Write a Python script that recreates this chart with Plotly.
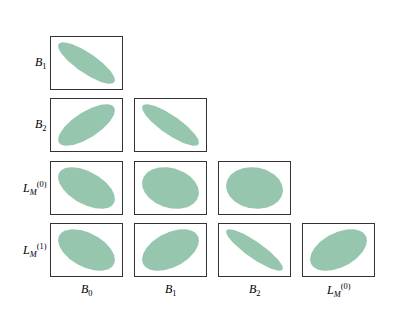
import numpy as np
import plotly.graph_objects as go

row_labels = ["<i>B</i><sub>1</sub>", "<i>B</i><sub>2</sub>",
              "<i>L</i><sub><i>M</i></sub><sup>(0)</sup>", "<i>L</i><sub><i>M</i></sub><sup>(1)</sup>"]
col_labels = ["<i>B</i><sub>0</sub>", "<i>B</i><sub>1</sub>",
              "<i>B</i><sub>2</sub>", "<i>L</i><sub><i>M</i></sub><sup>(0)</sup>"]
# correlation between row parameter (y) and column parameter (x)
corr_B1 = [-0.82]
corr_B2 = [0.70, -0.84]
corr_LM0 = [-0.52, -0.22, -0.10]
corr_LM1 = [-0.47, 0.45, -0.88, 0.45]
corr_rows = [corr_B1, corr_B2, corr_LM0, corr_LM1]

W, H = 415, 311
col_x0 = [51, 135, 219, 303]
panel_w = 71
row_y0 = [37, 99, 162, 224]
panel_h = 52
fill = "#96c6ae"
R = 1.25

fig = go.Figure()
t = np.linspace(0, 2 * np.pi, 200)
n = 0
for r, corrs in enumerate(corr_rows):
    for c, rho in enumerate(corrs):
        n += 1
        xa = "x" if n == 1 else f"x{n}"
        ya = "y" if n == 1 else f"y{n}"
        x = np.cos(t)
        y = rho * np.cos(t) + np.sqrt(1 - rho ** 2) * np.sin(t)
        fig.add_trace(go.Scatter(x=x, y=y, mode="lines", fill="toself",
                                 fillcolor=fill, line=dict(width=0, color=fill),
                                 hoverinfo="skip", showlegend=False,
                                 xaxis=xa, yaxis=ya))
        dx = [col_x0[c] / W, (col_x0[c] + panel_w) / W]
        dy = [1 - (row_y0[r] + panel_h) / H, 1 - row_y0[r] / H]
        axstyle = dict(showline=True, mirror=True, linecolor="#333333", linewidth=1,
                       showgrid=False, zeroline=False, showticklabels=False,
                       ticks="", range=[-R, R], fixedrange=True)
        fig.layout[f"xaxis{'' if n == 1 else n}"] = dict(domain=dx, anchor=ya, **axstyle)
        fig.layout[f"yaxis{'' if n == 1 else n}"] = dict(domain=dy, anchor=xa, **axstyle)

font = dict(family="Liberation Serif", size=12, color="#000000")
for r, lab in enumerate(row_labels):
    fig.add_annotation(text=lab, xref="paper", yref="paper",
                       x=(col_x0[0] - 2) / W, y=1 - (row_y0[r] + panel_h / 2) / H,
                       xanchor="right", yanchor="middle", showarrow=False, font=font)
for c, lab in enumerate(col_labels):
    fig.add_annotation(text=lab, xref="paper", yref="paper",
                       x=(col_x0[c] + panel_w / 2) / W, y=1 - (row_y0[3] + panel_h + 4) / H,
                       xanchor="center", yanchor="top", showarrow=False, font=font)

fig.update_layout(width=W, height=H, margin=dict(l=0, r=0, t=0, b=0),
                  paper_bgcolor="white", plot_bgcolor="white")
fig.write_html("out.html", config={"displayModeBar": False},
               post_script="document.body.style.margin='0px';")
